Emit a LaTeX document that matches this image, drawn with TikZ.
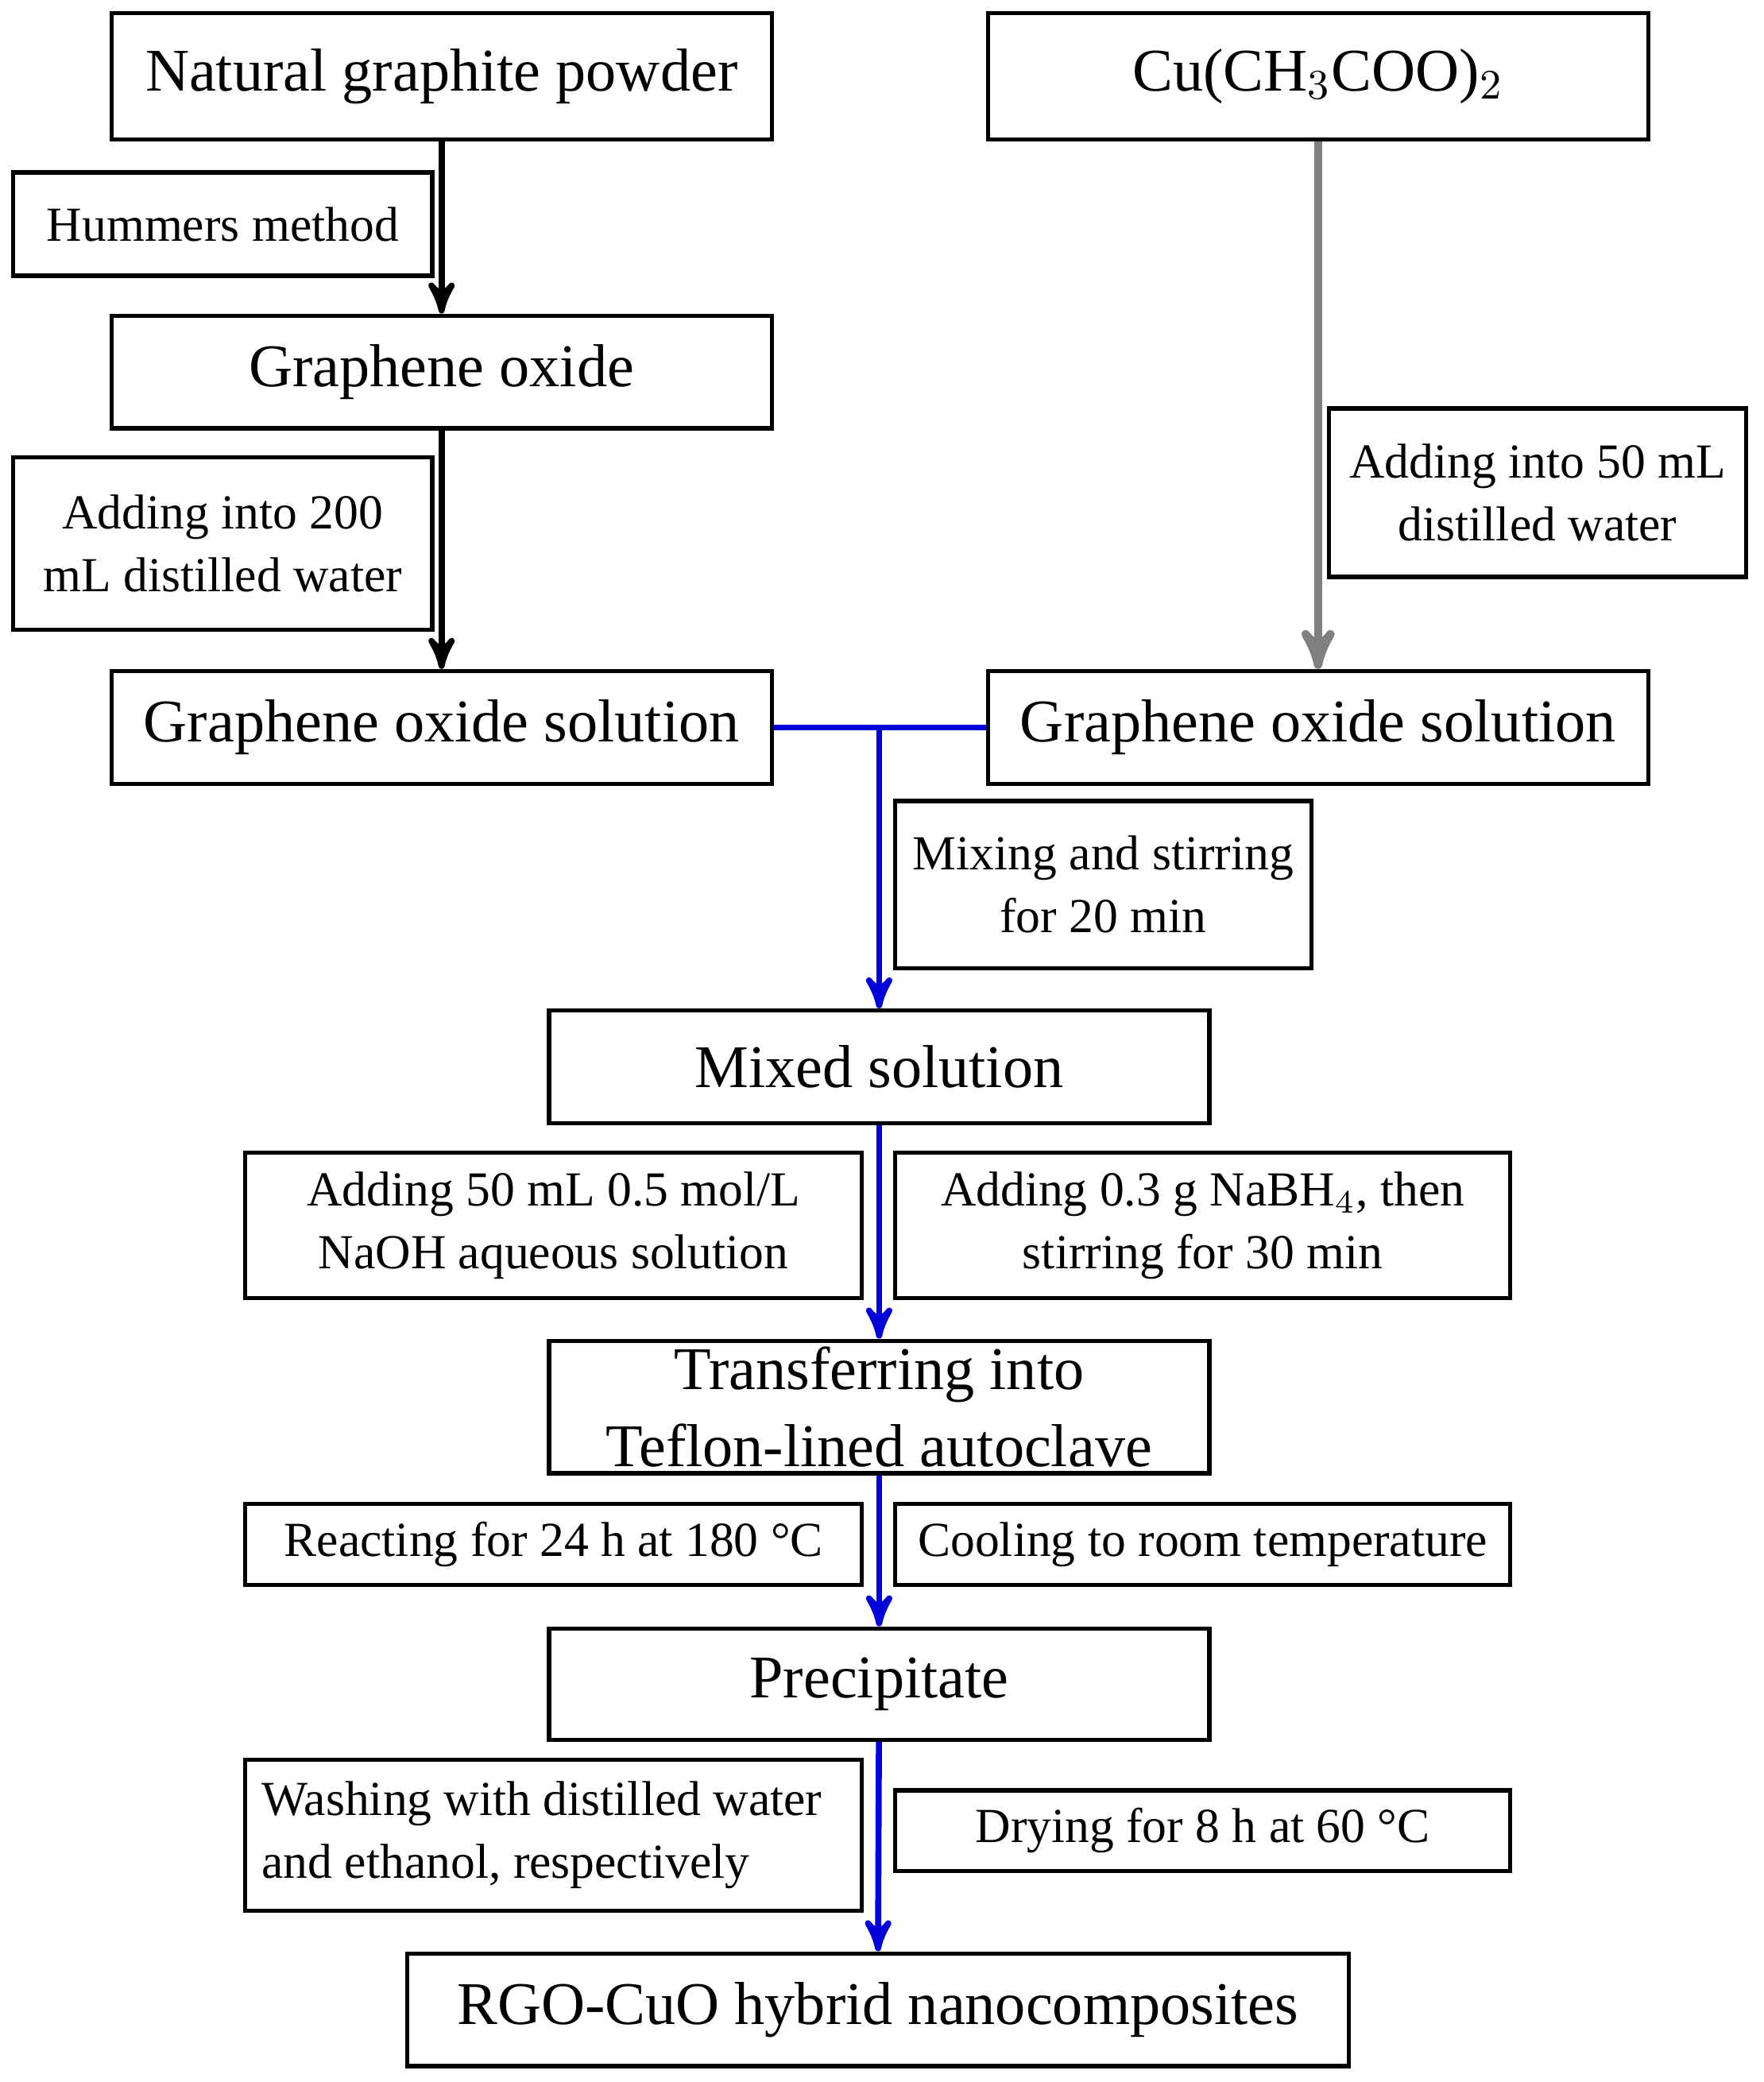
\documentclass[tikz,border=0pt]{standalone}
\usepackage{fontspec}
\setmainfont{Liberation Serif}
\usetikzlibrary{arrows}
\tikzset{>=stealth',
         box/.style={draw, line width=0.9pt, align=center, inner sep=0pt, font=\fontsize{13}{16.5}\selectfont},
         note/.style={draw, line width=0.9pt, align=center, inner sep=0pt, font=\fontsize{10.5}{13.5}\selectfont},
         flow/.style={->, line width=1.3pt, blue!85!black},
         }

\begin{document}
\begin{tikzpicture}
    \useasboundingbox (0,0) rectangle (13.3,-15.7);
    % main column
    \node[box, minimum width=4.98cm, minimum height=0.95cm] (graphite) at (3.33,-0.575) {Natural graphite powder};
    \node[box, minimum width=4.98cm, minimum height=0.95cm] (copper) at (9.94,-0.575) {Cu(CH$_3$COO)$_2$};
    \node[note, minimum width=3.16cm, minimum height=0.78cm] (hummers) at (1.68,-1.69) {Hummers method};
    \node[box, minimum width=4.98cm, minimum height=0.85cm] (go) at (3.33,-2.805) {Graphene oxide};
    \node[note, minimum width=3.16cm, minimum height=1.3cm] (water200) at (1.68,-4.1) {Adding into 200\\mL distilled water};
    \node[note, minimum width=3.15cm, minimum height=1.27cm] (water50) at (11.595,-3.715) {Adding into 50 mL\\distilled water};
    \node[box, minimum width=4.98cm, minimum height=0.85cm] (gosolL) at (3.33,-5.485) {Graphene oxide solution};
    \node[box, minimum width=4.98cm, minimum height=0.85cm] (gosolR) at (9.94,-5.485) {Graphene oxide solution};
    \node[note, minimum width=3.14cm, minimum height=1.26cm] (mixing) at (8.32,-6.67) {Mixing and stirring\\for 20 min};
    \node[box, minimum width=4.98cm, minimum height=0.85cm] (mixed) at (6.63,-8.045) {Mixed solution};
    \node[note, minimum width=4.65cm, minimum height=1.1cm] (naoh) at (4.175,-9.24) {Adding 50 mL 0.5 mol/L\\NaOH aqueous solution};
    \node[note, minimum width=4.64cm, minimum height=1.1cm] (nabh) at (9.07,-9.24) {Adding 0.3 g NaBH$_4$, then\\stirring for 30 min};
    \node[box, minimum width=4.98cm, minimum height=1.0cm] (teflon) at (6.63,-10.61) {Transferring into\\Teflon-lined autoclave};
    \node[note, minimum width=4.65cm, minimum height=0.61cm] (react) at (4.175,-11.645) {Reacting for 24 h at 180 °C};
    \node[note, minimum width=4.64cm, minimum height=0.61cm] (cool) at (9.07,-11.645) {Cooling to room temperature};
    \node[box, minimum width=4.98cm, minimum height=0.84cm] (precip) at (6.63,-12.7) {Precipitate};
    \node[note, minimum width=4.65cm, minimum height=1.14cm, text width=4.4cm, align=justify] (wash) at (4.175,-13.84) {Washing with distilled water\\and ethanol, respectively};
    \node[note, minimum width=4.64cm, minimum height=0.61cm] (dry) at (9.07,-13.805) {Drying for 8 h at 60 °C};
    \node[box, minimum width=7.1cm, minimum height=0.85cm] (rgo) at (6.62,-15.155) {RGO-CuO hybrid nanocomposites};

    \coordinate (join) at (6.63,-5.485);

    \draw[->, line width=1.3pt] (graphite) -- (go);
    \draw[->, line width=1.3pt] (go) -- (gosolL);
    \draw[->, line width=1.8pt, gray] (copper) -- (gosolR);
    \draw[blue!85!black, line width=1.3pt] (gosolL) -- (gosolR);
    \draw[flow] (join) -- (mixed);
    \draw[flow] (mixed) -- (teflon);
    \draw[flow] (teflon) -- (precip);
    \draw[flow] (precip) -- (rgo);
\end{tikzpicture}
\end{document}
